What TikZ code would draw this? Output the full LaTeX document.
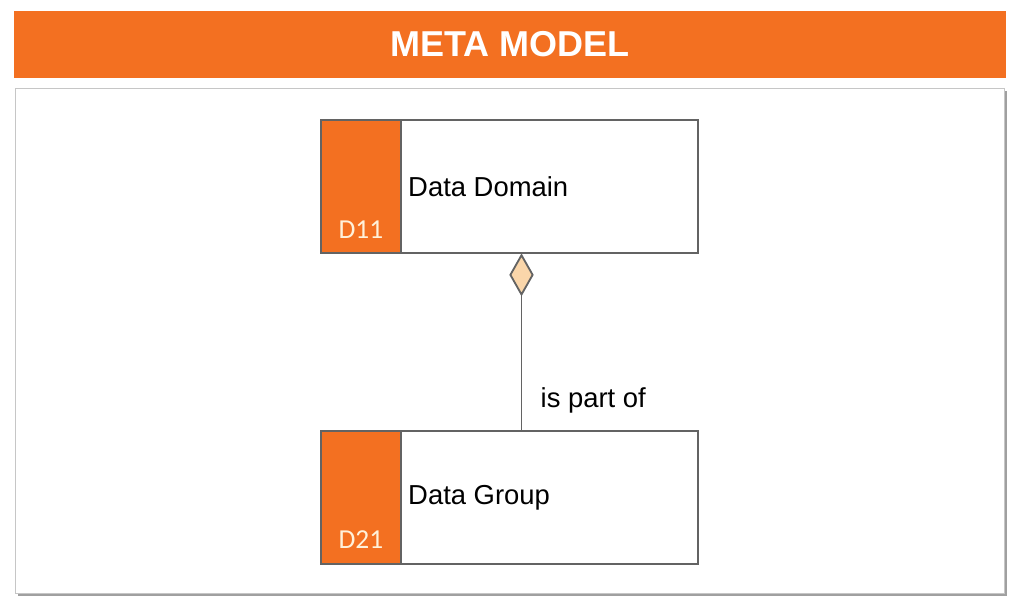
\documentclass[tikz,border=0pt]{standalone}
\usepackage{fontspec}
\setmainfont{Liberation Sans}
\newfontfamily\codefont{Carlito}
\usetikzlibrary{shapes.geometric,shadows}

\definecolor{metaorange}{HTML}{F37021}
\definecolor{edgegray}{HTML}{636363}
\definecolor{diamondfill}{HTML}{FAD6AA}
\definecolor{codecream}{HTML}{FFF1DA}

\begin{document}
\begin{tikzpicture}[x=0.025cm,y=-0.025cm,
    entity/.style={draw=edgegray,
        line width=1.3pt,
        fill=white,
        minimum width=9.425cm,
        minimum height=3.325cm},
    tag/.style={draw=edgegray,
        line width=1.3pt,
        fill=metaorange,
        minimum width=2cm,
        minimum height=3.325cm},
    codetext/.style={font=\codefont\fontsize{19.5}{22}\selectfont,
        text=codecream,
        inner sep=0pt},
    nametext/.style={font=\fontsize{19.5}{22}\selectfont,
        text=black,
        inner sep=0pt}]

\useasboundingbox (0,0) rectangle (1016,612);

% Title banner
\node[fill=metaorange,
    minimum width=24.8cm,
    minimum height=1.675cm,
    text=white,
    font=\bfseries\fontsize{25.6}{30}\selectfont] (title) at (510,44.5) {META MODEL};

% Frame with shadow
\draw[draw=gray!45,
    fill=white,
    drop shadow={shadow xshift=2.2pt,shadow yshift=-2.2pt,opacity=0.75,fill=gray}]
    (15,88) rectangle (1004,593);

% Data Domain box
\node[entity] (domain) at (509.5,186.5) {};
\node[tag, anchor=west] (domaintag) at (domain.west) {};
\node[codetext, anchor=base] (domaincode) at ([yshift=10.7pt]domaintag.south) {D11};
\node[nametext, anchor=west] (domainname) at ([xshift=4.3pt]domaintag.east) {Data Domain};

% Data Group box
\node[entity] (group) at (509.5,497.5) {};
\node[tag, anchor=west] (grouptag) at (group.west) {};
\node[codetext, anchor=base] (groupcode) at ([yshift=11.4pt]grouptag.south) {D21};
\node[nametext, anchor=west] (groupname) at ([xshift=4.3pt]grouptag.east) {Data Group};

% Aggregation diamond and relation
\node[draw=edgegray,
    line width=1.3pt,
    diamond,
    inner sep=0pt,
    fill=diamondfill,
    minimum width=0.575cm,
    minimum height=1cm,
    anchor=north] (agg) at ([xshift=0.3cm]domain.south) {};
\draw[edgegray, line width=1.3pt] (agg.south) -- node[nametext, pos=0.78, anchor=west, xshift=13pt] (rel) {is part of} (agg.south |- group.north);

\end{tikzpicture}
\end{document}
